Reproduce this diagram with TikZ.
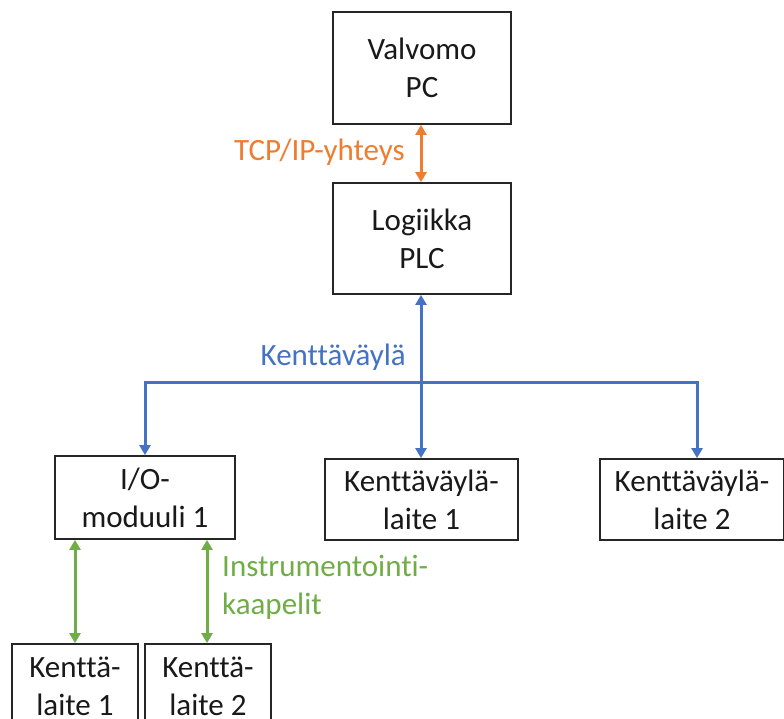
\documentclass[tikz,border=0pt]{standalone}
\usepackage{fontspec}
\setmainfont[Ligatures=NoCommon]{Carlito}
\usetikzlibrary{arrows.meta}
\definecolor{oorange}{HTML}{ED7D31}
\definecolor{oblue}{HTML}{4472C4}
\definecolor{ogreen}{HTML}{70AD47}
\tikzset{
  box/.style={draw=black!85, line width=1.8pt, inner sep=0pt, align=center,
    font=\fontsize{31}{38}\selectfont, text=black!90},
  lbl/.style={inner sep=0pt, font=\fontsize{31}{38}\selectfont},
  link/.style={line width=3pt, {Triangle[width=11pt,length=10pt]}-{Triangle[width=11pt,length=10pt]}},
  tip/.style={line width=3pt, -{Triangle[width=11pt,length=10pt]}}
}
\begin{document}
\begin{tikzpicture}[x=1pt,y=-1pt]
\useasboundingbox (0,0) rectangle (784,719);
\clip (0,0) rectangle (784,719);
\node[box, minimum width=178pt, minimum height=112pt] (pc) at (422,68) {Valvomo\\PC};
\node[box, minimum width=178pt, minimum height=111pt] (plc) at (422,238.5) {Logiikka\\PLC};
\node[box, minimum width=180pt, minimum height=83pt] (io) at (145,497.5) {I/O-\\moduuli 1};
\node[box, minimum width=193pt, minimum height=81pt] (kv1) at (421.5,499.5) {Kenttäväylä-\\laite 1};
\node[box, minimum width=184pt, minimum height=81pt] (kv2) at (692,499.5) {Kenttäväylä-\\laite 2};
\node[box, minimum width=126pt, minimum height=84pt] (kl1) at (75,686) {Kenttä-\\laite 1};
\node[box, minimum width=126pt, minimum height=84pt] (kl2) at (208,686) {Kenttä-\\laite 2};

\draw[link, oorange] (pc.south -| 421,0) -- (plc.north -| 421,0);
\draw[link, oblue] (plc.south -| 421,0) -- (kv1.north -| 421,0);
\coordinate (bl) at (145,382);
\coordinate (br) at (697,382);
\draw[line width=3pt, oblue] ([xshift=-1.5pt]bl) -- ([xshift=1.5pt]br);
\draw[tip, oblue] ([yshift=-1.5pt]bl) -- (io.north -| bl);
\draw[tip, oblue] ([yshift=-1.5pt]br) -- (kv2.north -| br);
\draw[link, ogreen] (io.south -| kl1) -- (kl1.north);
\draw[link, ogreen] (io.south -| 207,0) -- (kl2.north -| 207,0);

\node[lbl, text=oorange, anchor=east] (tcp) at (405,152) {TCP/IP-yhteys};
\node[lbl, text=oblue, anchor=east] (fb) at (406,357) {Kenttäväylä};
\node[lbl, text=ogreen, anchor=north west, align=left] (ik) at (222,555) {Instrumentointi-\\kaapelit};
\end{tikzpicture}
\end{document}
